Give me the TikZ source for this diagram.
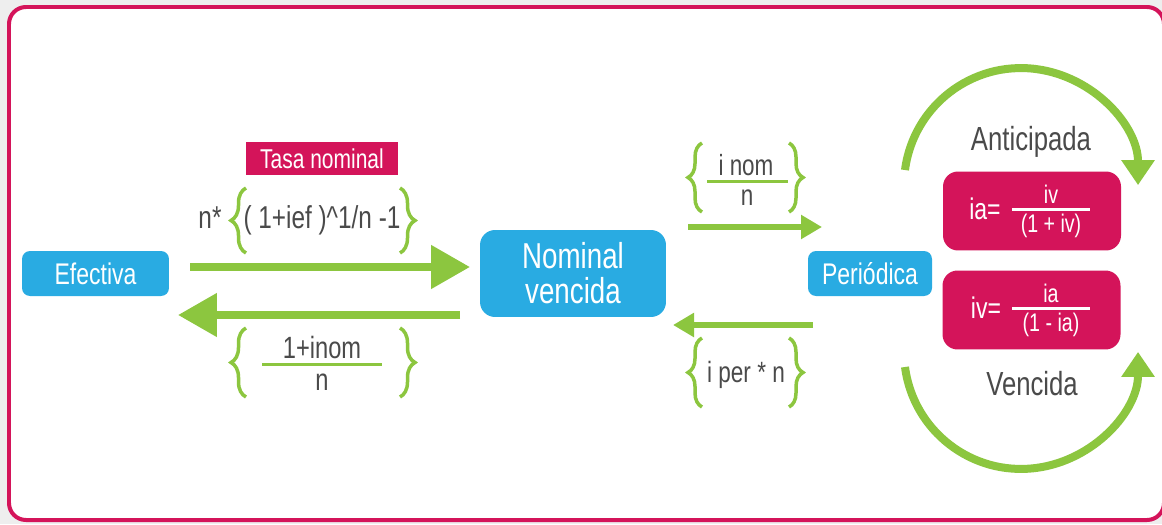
\documentclass[tikz,border=0pt]{standalone}
\usepackage{fontspec}
\setmainfont{Liberation Sans}[FakeStretch=0.77]
\usepackage{xcolor}
\usetikzlibrary{positioning}
\usetikzlibrary{arrows.meta}
\usetikzlibrary{decorations.pathreplacing}

\definecolor{azulCaja}{HTML}{29ABE2}
\definecolor{rojoCaja}{HTML}{D4145A}
\definecolor{verdeFlecha}{HTML}{8CC63F}
\definecolor{grisTexto}{HTML}{4A4A4A}
\definecolor{grisFondo}{HTML}{EEEEEE}

\tikzset
  {
    cajaAzul/.style=    {fill=azulCaja, text=white, inner sep=0pt, rounded corners=0.16cm},
    cajaRoja/.style=    {fill=rojoCaja, text=white, inner sep=0pt, rounded corners=0.3cm, minimum width=3.56cm, minimum height=1.58cm},
    flecha/.style=      {verdeFlecha, line width=0.16cm, -{Triangle[length=0.78cm, width=0.84cm]}},
    flechita/.style=    {verdeFlecha, line width=0.13cm, -{Triangle[length=0.42cm, width=0.46cm]}},
    flechaArco/.style=  {verdeFlecha, line width=0.16cm, -{Triangle[length=0.5cm, width=0.64cm]}},
    llave/.style=       {verdeFlecha, line width=0.07cm, decorate, decoration={brace, amplitude=0.3cm}},
    raya/.style=        {line width=0.06cm},
    gris/.style=        {text=grisTexto, inner sep=0pt, anchor=base},
    blanco/.style=      {text=white, inner sep=0pt, anchor=base}
  }

\begin{document}
\begin{tikzpicture}[x=0.02cm, y=-0.02cm]

\useasboundingbox (0,0) rectangle (1162,524);

% marco
\fill[grisFondo] (0,0) rectangle (1162,524);
\draw[rojoCaja, fill=white, line width=0.08cm, rounded corners=0.34cm] (9,7) rectangle (1164,520);

% cajas
\node[cajaAzul, minimum width=2.94cm, minimum height=0.9cm, font=\fontsize{17}{20}\selectfont] (efectiva) at (95.5,273.5) {Efectiva};

\node[cajaAzul, rounded corners=0.3cm, minimum width=3.72cm, minimum height=1.74cm, align=center, font=\fontsize{20.5}{20}\selectfont] (nominal) at (573,273.5) {Nominal\\vencida};

\node[cajaAzul, minimum width=2.48cm, minimum height=0.9cm, font=\fontsize{17}{20}\selectfont] (periodica) at (870,273.5) {Periódica};

\node[fill=rojoCaja, text=white, inner sep=0pt, minimum width=3.04cm, minimum height=0.66cm, font=\fontsize{15.5}{18}\selectfont] (tasa) at (322,158.5) {Tasa nominal};

\node[cajaRoja] (anticipadaCaja) at (1032,211) {};
\node[cajaRoja] (vencidaCaja) at (1031.5,310) {};

% flechas rectas
\coordinate (ini1) at (190,267);
\coordinate (fin1) at (470,267);
\coordinate (ini2) at (460,315);
\coordinate (fin2) at (178,315);
\coordinate (ini3) at (688,227);
\coordinate (fin3) at (822,227);
\coordinate (ini4) at (813,325);
\coordinate (fin4) at (673,325);

\draw[flecha] (ini1) -- (fin1);
\draw[flecha] (ini2) -- (fin2);
\draw[flechita] (ini3) -- (fin3);
\draw[flechita] (ini4) -- (fin4);

% llaves
\draw[llave] (246,253) -- (246,188);
\draw[llave] (400,188) -- (400,253);

\draw[llave] (246,397) -- (246,328);
\draw[llave] (400,328) -- (400,397);

\draw[llave, decoration={amplitude=0.28cm}] (702,212) -- (702,143);
\draw[llave, decoration={amplitude=0.28cm}] (789,143) -- (789,212);

\draw[llave, decoration={amplitude=0.28cm}] (702,407) -- (702,338);
\draw[llave, decoration={amplitude=0.28cm}] (789,338) -- (789,407);

% formulas
\node[gris, font=\fontsize{18}{20}\selectfont] (nPor) at (210,228) {n*};
\node[gris, font=\fontsize{18}{20}\selectfont] (efANom) at (322,228) {( 1+ief )\^{}1/n -1};

\node[gris, font=\fontsize{17.5}{20}\selectfont] (numNomAEf) at (322,358) {1+inom};
\node[gris, font=\fontsize{17.5}{20}\selectfont] (denNomAEf) at (322,390) {n};
\draw[verdeFlecha, raya] (262,364) -- (382,364);

\node[gris, font=\fontsize{16.6}{20}\selectfont] (numNomAPer) at (746,175) {i nom};
\node[gris, font=\fontsize{16.6}{20}\selectfont] (denNomAPer) at (747,205) {n};
\draw[verdeFlecha, raya] (707,181) -- (788,181);

\node[gris, font=\fontsize{16.7}{20}\selectfont] (perANom) at (746,382) {i per * n};

% arcos
\draw[flechaArco] (905,170) arc[start angle=-172.6, end angle=0, radius=117];
\draw[flechaArco] (905,367) arc[start angle=172.6, end angle=0, radius=117];

\node[gris, font=\fontsize{19}{22}\selectfont] (anticipada) at (1031,150) {Anticipada};
\node[gris, font=\fontsize{19}{22}\selectfont] (vencida) at (1032,395) {Vencida};

% formulas en cajas rojas
\node[blanco, font=\fontsize{17}{20}\selectfont] (ia) at (985,219) {ia=};
\node[blanco, font=\fontsize{14.5}{18}\selectfont] (numIa) at (1051,203) {iv};
\node[blanco, font=\fontsize{14.5}{18}\selectfont] (denIa) at (1051,232) {(1 + iv)};
\draw[white, raya] (1012,209) -- (1090,209);

\node[blanco, font=\fontsize{17}{20}\selectfont] (iv) at (986,318) {iv=};
\node[blanco, font=\fontsize{14.5}{18}\selectfont] (numIv) at (1051,302) {ia};
\node[blanco, font=\fontsize{14.5}{18}\selectfont] (denIv) at (1051,331) {(1 - ia)};
\draw[white, raya] (1012,308) -- (1090,308);

\end{tikzpicture}
\end{document}
